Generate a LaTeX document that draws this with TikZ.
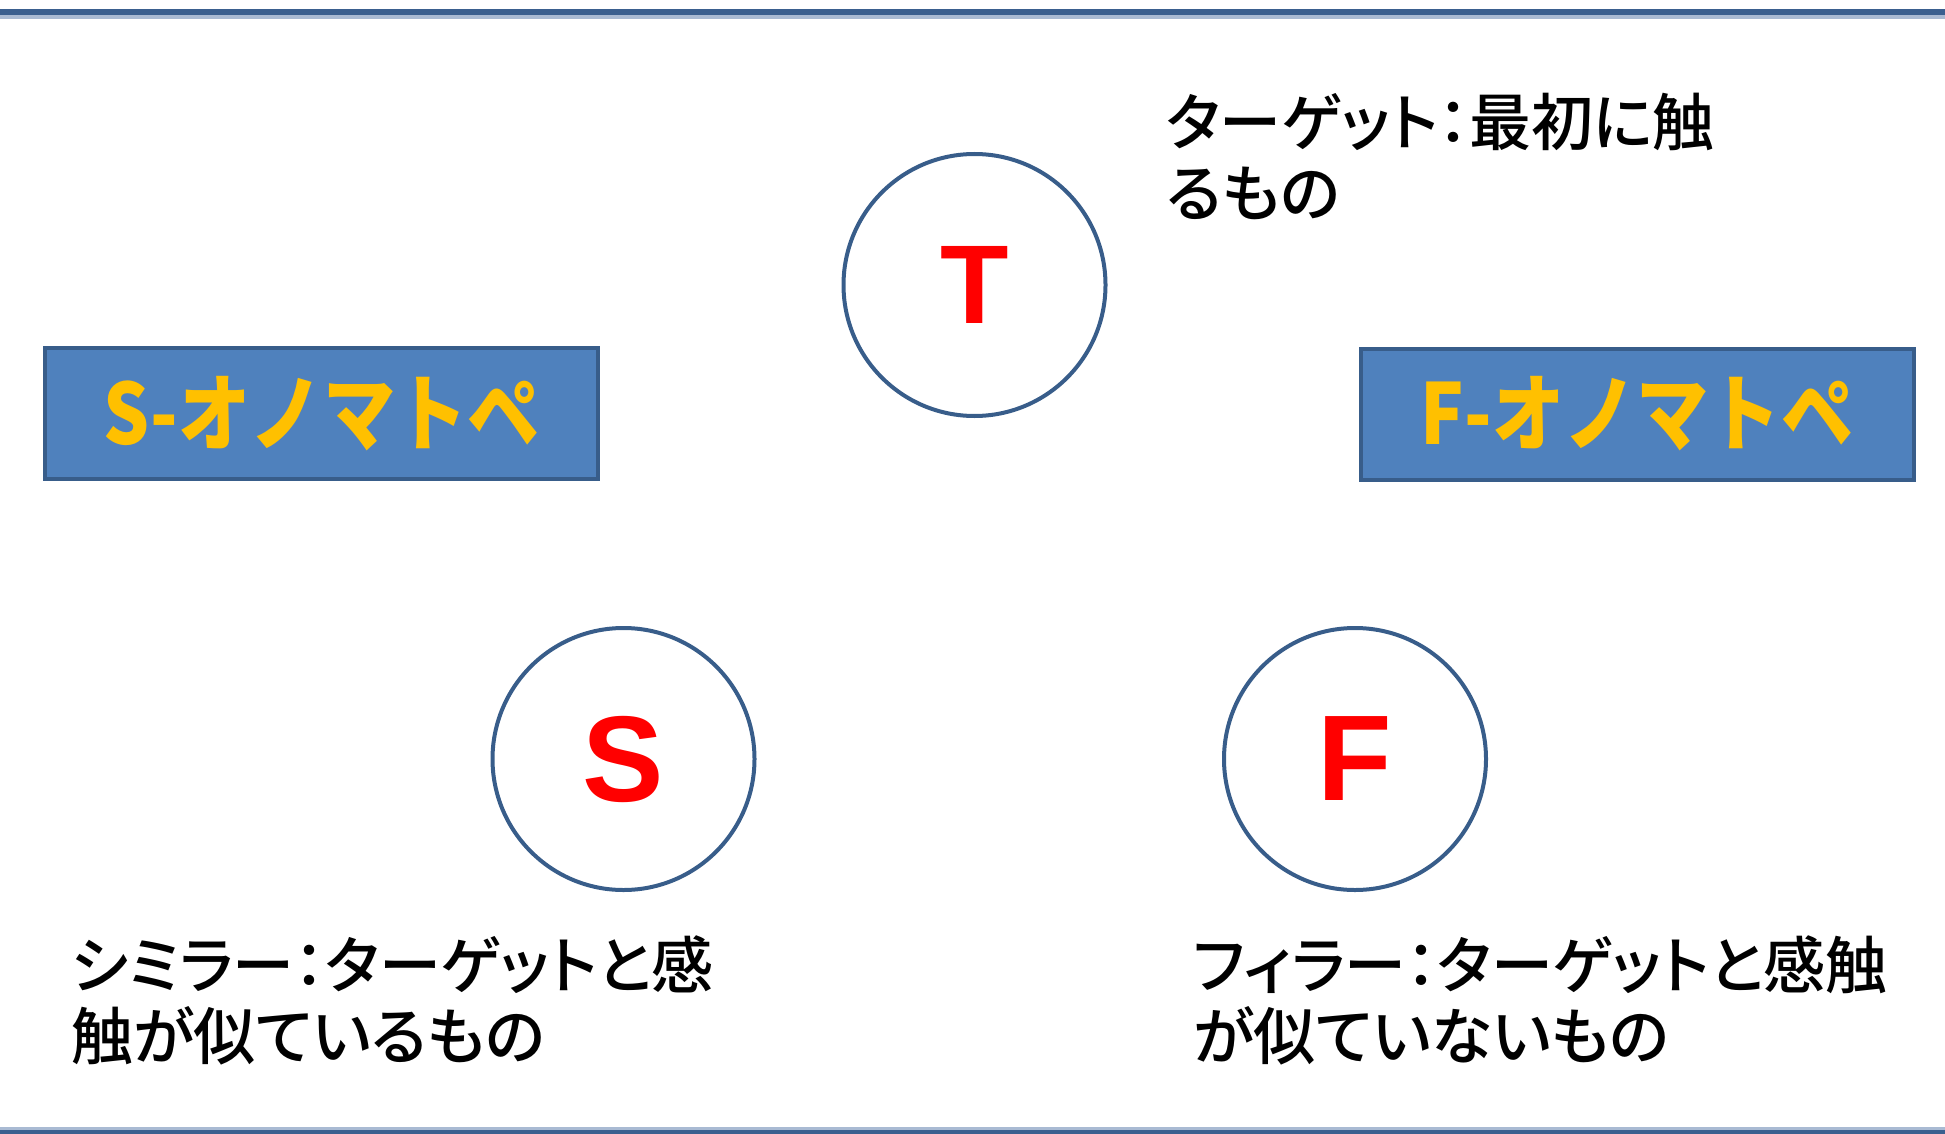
\documentclass[tikz,border=0pt]{standalone}
\usepackage{fontspec}
\newfontfamily\jpfont[RawFeature=+palt,BoldFont={Noto Sans CJK JP Medium}]{Noto Sans CJK JP}
\newfontfamily\jpboldfont[FakeStretch=0.86]{Noto Sans CJK JP}
\newfontfamily\letterfont{Liberation Sans}
\definecolor{boxfill}{HTML}{4F81BD}
\definecolor{boxline}{HTML}{385D8A}
\definecolor{onoyellow}{HTML}{FFC000}
\definecolor{rulecol}{HTML}{3A5F8F}
\definecolor{rulefade}{HTML}{A9BAD3}
\begin{document}
\begin{tikzpicture}[x=1pt,y=-1pt,
  obox/.style={draw=boxline, fill=boxfill, line width=4pt, minimum width=553pt,
    minimum height=131pt, inner sep=0pt, text=onoyellow,
    font=\jpboldfont\bfseries\fontsize{84}{84}\selectfont},
  letter/.style={circle, draw=boxline, line width=4pt, minimum size=262pt,
    inner sep=0pt, text=red, font=\letterfont\bfseries\fontsize{122}{122}\selectfont},
  desc/.style={anchor=north west, inner sep=0pt, align=left,
    font=\jpfont\bfseries\fontsize{62}{71}\selectfont}]
\useasboundingbox (0,0) rectangle (1945,1134);
% top and bottom rules
\fill[rulefade] (0,15) rectangle (1945,19);
\fill[rulecol] (0,9) rectangle (1945,15.5);
\fill[rulefade] (0,1127) rectangle (1945,1130);
\fill[rulecol] (0,1130) rectangle (1945,1134);
% boxes
\node[obox] (sbox) at (321.5,413.5) {S-オノマトペ};
\node[obox] (fbox) at (1637,414) {F-オノマトペ};
% circles
\node[letter, font=\letterfont\bfseries\fontsize{112}{112}\selectfont] (t) at (974.5,285) {T};
\node[letter] (s) at (623.5,759) {S};
\node[letter] (f) at (1355,759) {F};
% descriptions
\node[desc] (tlab) at (1166,93) {ターゲット：最初に触\\るもの};
\node[desc] (slab) at (71,935) {シミラー：ターゲットと感\\触が似ているもの};
\node[desc] (flab) at (1193,935) {フィラー：ターゲットと感触\\が似ていないもの};
\end{tikzpicture}
\end{document}
